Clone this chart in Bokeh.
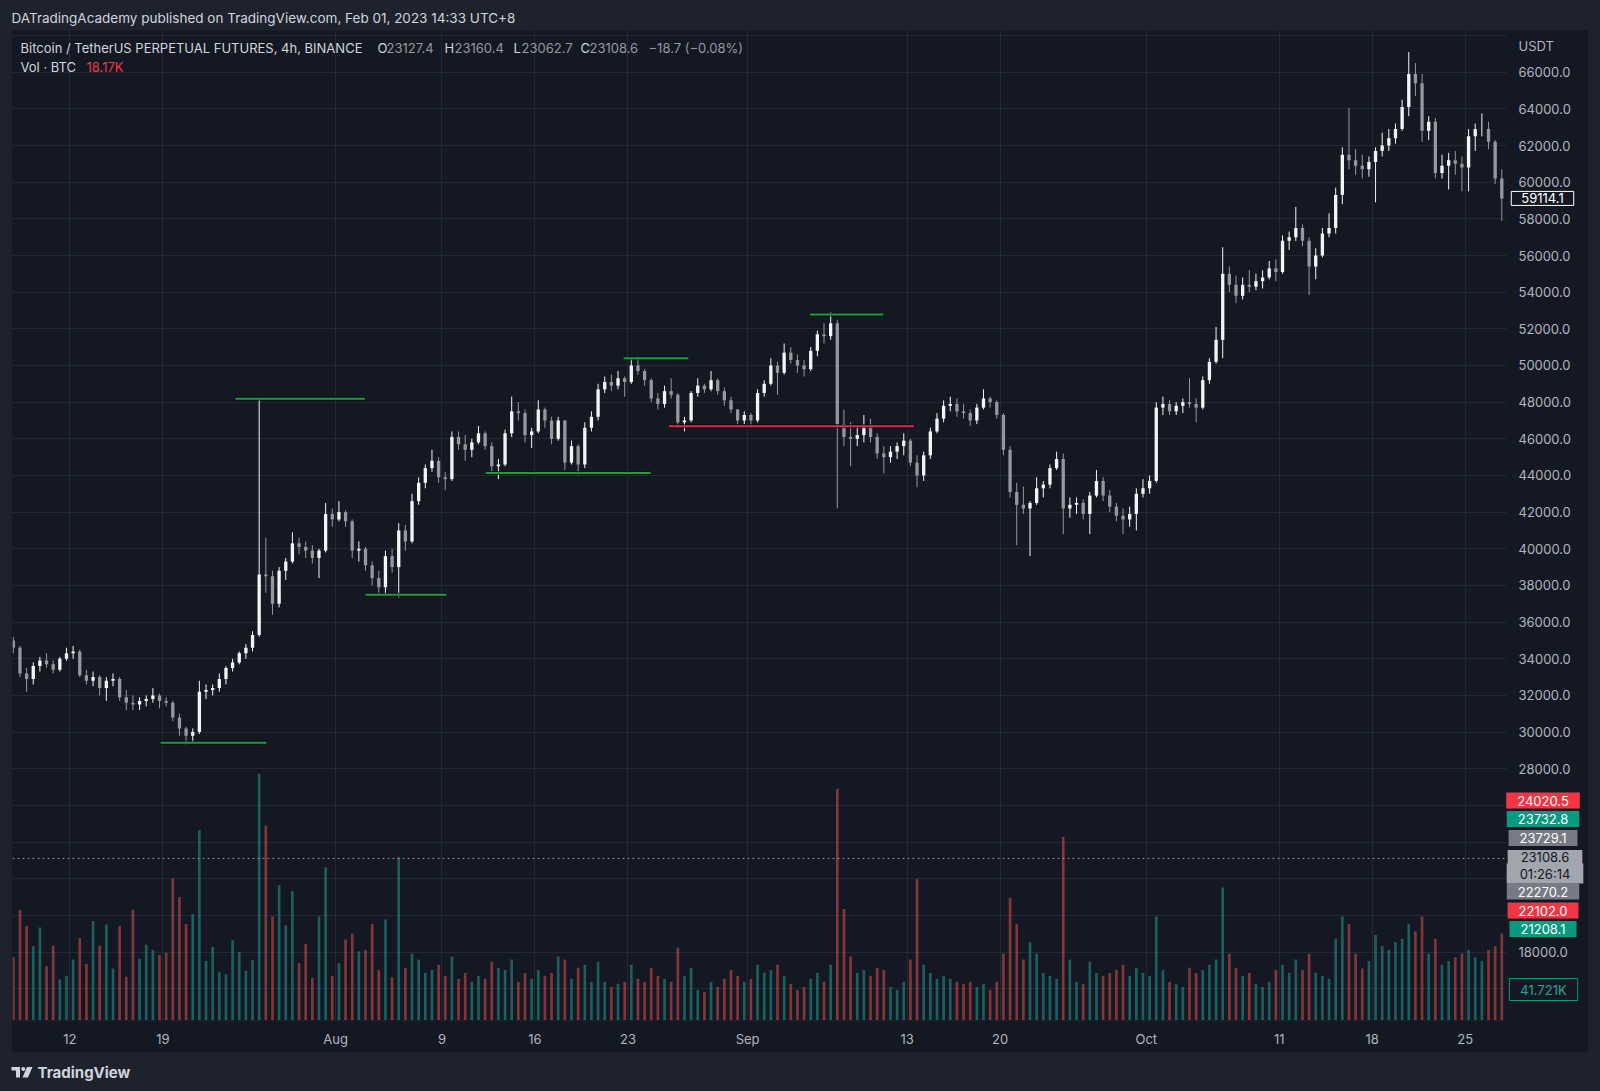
import datetime as dt
from bokeh.plotting import figure
from bokeh.models import (Range1d, LinearAxis, DatetimeAxis, FixedTicker, NumeralTickFormatter,
                          ColumnDataSource, Label, Grid, BoxAnnotation, GlobalInlineStyleSheet)
from bokeh.layouts import column, row
from bokeh.embed import file_html
from bokeh.resources import INLINE

# ---------------- data (12h candles, prices in thousand USDT) ----------------
first_open_k = 35.0
high_k = [
    35.2, 34.7, 33.5, 33.8, 34.1, 34.3, 33.9, 34.1, 34.6, 34.7,
    34.5, 33.4, 33.3, 33.1, 33.0, 33.2, 33.0, 32.3, 32.0, 31.9,
    32.0, 32.4, 32.1, 31.9, 31.7, 31.0, 30.3, 30.2, 32.8, 32.6,
    32.6, 33.2, 33.6, 34.0, 34.4, 34.8, 35.5, 48.2, 40.6, 38.8,
    39.0, 39.5, 40.9, 40.6, 40.4, 40.2, 40.0, 42.5, 42.2, 42.6,
    42.1, 41.6, 40.4, 40.1, 39.3, 38.8, 39.9, 40.0, 41.4, 41.3,
    43.0, 43.9, 44.6, 45.4, 45.0, 44.2, 46.4, 46.4, 46.2, 46.0,
    46.7, 46.4, 45.8, 44.9, 46.5, 48.3, 48.0, 47.6, 46.6, 48.1,
    47.7, 47.2, 47.2, 47.0, 45.9, 45.7, 46.9, 47.5, 49.0, 49.4,
    49.5, 49.7, 49.4, 50.4, 50.5, 49.8, 49.3, 48.5, 48.9, 49.3,
    48.5, 47.2, 48.6, 49.3, 49.0, 49.7, 49.3, 48.8, 48.3, 47.6,
    47.5, 47.4, 48.7, 49.2, 50.4, 50.2, 51.2, 51.0, 50.6, 50.3,
    51.0, 51.9, 52.3, 52.9, 52.5, 47.6, 46.9, 46.7, 47.3, 47.1,
    46.3, 45.6, 45.6, 45.8, 46.3, 46.0, 45.1, 45.3, 46.6, 47.4,
    48.1, 48.3, 48.2, 47.9, 47.6, 47.9, 48.7, 48.3, 48.1, 47.4,
    45.6, 43.6, 43.4, 42.6, 43.9, 43.7, 44.6, 45.3, 45.2, 42.8,
    42.8, 42.7, 43.1, 44.3, 43.9, 43.2, 42.5, 42.2, 42.3, 43.3,
    43.8, 44.0, 48.0, 48.3, 48.1, 48.0, 48.2, 49.3, 48.2, 49.4,
    50.4, 52.1, 56.45, 55.4, 54.9, 54.8, 55.2, 55.0, 55.2, 55.7,
    55.8, 57.1, 57.3, 58.65, 57.7, 57.0, 56.4, 57.5, 58.3, 59.7,
    61.9, 64.05, 61.8, 61.5, 61.4, 61.9, 62.7, 62.9, 63.2, 64.5,
    67.1, 66.5, 65.9, 63.6, 63.5, 61.5, 61.6, 61.7, 61.4, 62.9,
    63.2, 63.75, 63.3, 62.3, 60.7]
low_k = [
    34.3, 33.0, 32.2, 32.6, 33.3, 33.5, 33.2, 33.3, 33.9, 34.0,
    33.0, 32.6, 32.5, 32.0, 31.7, 32.5, 31.7, 31.2, 31.2, 31.2,
    31.4, 31.6, 31.3, 31.4, 30.6, 29.8, 29.3, 29.4, 29.9, 31.8,
    32.0, 32.2, 32.6, 33.3, 33.7, 34.0, 34.4, 35.2, 37.6, 36.4,
    36.8, 38.3, 39.2, 39.7, 39.5, 39.2, 38.4, 39.8, 41.2, 41.5,
    41.2, 39.5, 39.3, 38.8, 38.0, 37.6, 37.5, 38.7, 37.35, 39.9,
    40.3, 42.4, 43.3, 44.2, 43.6, 43.2, 43.7, 45.4, 44.8, 45.0,
    45.7, 45.4, 44.2, 43.8, 44.5, 46.1, 47.0, 45.8, 45.5, 46.3,
    46.6, 45.7, 45.9, 44.3, 44.6, 44.0, 44.4, 46.4, 47.0, 48.5,
    48.6, 48.7, 48.3, 49.0, 49.5, 48.9, 48.0, 47.6, 47.7, 48.2,
    46.6, 46.4, 46.9, 48.3, 48.5, 48.6, 48.4, 47.8, 47.4, 46.8,
    46.8, 46.6, 46.9, 48.3, 48.9, 48.4, 49.5, 50.1, 49.6, 49.4,
    49.7, 50.5, 51.2, 51.4, 42.2, 45.6, 44.5, 45.6, 45.8, 45.8,
    44.9, 44.1, 44.7, 44.9, 45.1, 44.5, 43.35, 43.7, 44.9, 46.3,
    46.9, 47.5, 47.2, 47.1, 46.7, 46.8, 47.6, 47.7, 47.1, 45.1,
    42.8, 40.2, 41.9, 39.6, 42.4, 42.8, 43.3, 44.3, 40.8, 41.7,
    41.9, 41.6, 40.8, 42.8, 42.6, 42.0, 41.5, 40.8, 41.2, 41.0,
    42.8, 43.0, 43.6, 47.3, 47.3, 47.3, 47.4, 47.7, 46.9, 47.6,
    49.0, 50.1, 50.4, 54.0, 53.4, 53.6, 54.0, 54.1, 54.2, 54.7,
    54.6, 55.0, 56.3, 56.8, 56.5, 53.85, 54.7, 55.9, 57.0, 57.2,
    58.8, 60.7, 60.4, 60.2, 60.3, 58.9, 61.4, 61.7, 62.1, 62.8,
    63.6, 64.7, 62.2, 62.3, 60.2, 60.2, 59.6, 60.4, 59.5, 59.5,
    61.7, 62.5, 61.8, 59.9, 57.9]
close_k = [
    34.6, 33.2, 32.9, 33.6, 33.9, 33.7, 33.4, 34.0, 34.3, 34.4,
    33.1, 32.8, 33.0, 32.4, 32.8, 32.9, 31.9, 31.6, 31.5, 31.7,
    31.8, 32.0, 31.7, 31.6, 30.8, 30.2, 29.8, 30.0, 32.2, 32.3,
    32.4, 32.9, 33.5, 33.8, 34.3, 34.6, 35.3, 38.6, 38.5, 37.0,
    38.8, 39.3, 40.3, 40.1, 39.9, 39.5, 39.9, 41.9, 41.6, 42.0,
    41.5, 39.9, 40.0, 39.1, 38.4, 37.9, 39.6, 39.0, 41.0, 40.4,
    42.6, 43.6, 44.4, 44.8, 43.9, 43.8, 46.1, 45.7, 45.4, 45.8,
    46.3, 45.6, 44.5, 44.6, 46.3, 47.5, 47.4, 46.2, 46.4, 47.6,
    47.0, 46.0, 47.0, 44.7, 45.6, 44.6, 46.6, 47.2, 48.7, 49.1,
    48.9, 49.3, 49.1, 50.0, 49.7, 49.2, 48.2, 47.9, 48.6, 48.4,
    46.9, 47.0, 48.5, 48.9, 48.7, 49.2, 48.6, 48.1, 47.6, 47.0,
    47.3, 47.0, 48.5, 49.0, 50.0, 49.6, 50.7, 50.3, 50.0, 49.8,
    50.8, 51.7, 51.6, 52.3, 46.8, 46.1, 46.0, 46.2, 46.7, 46.1,
    45.2, 45.0, 45.3, 45.6, 45.9, 44.7, 44.0, 45.1, 46.4, 47.1,
    47.8, 47.9, 47.5, 47.4, 47.0, 47.7, 48.2, 48.0, 47.3, 45.4,
    43.1, 42.4, 42.2, 42.5, 43.3, 43.5, 44.4, 44.9, 42.2, 42.4,
    42.5, 41.9, 42.9, 43.7, 42.9, 42.3, 41.8, 41.6, 41.9, 43.0,
    43.3, 43.7, 47.7, 47.9, 47.5, 47.8, 48.0, 47.9, 47.7, 49.2,
    50.2, 51.4, 55.0, 54.4, 53.8, 54.4, 54.3, 54.6, 54.8, 55.3,
    55.1, 56.8, 57.0, 57.5, 56.8, 55.4, 56.0, 57.2, 57.5, 59.3,
    61.5, 61.2, 60.9, 60.7, 61.1, 61.7, 62.0, 62.4, 62.9, 64.1,
    65.9, 65.4, 62.8, 63.3, 60.5, 60.9, 61.2, 61.0, 60.8, 62.5,
    62.9, 62.9, 62.2, 60.2, 59.1141]
volume_k = [
    85, 149, 127, 100, 125, 73, 101, 55, 60, 82,
    111, 76, 134, 101, 129, 70, 127, 59, 149, 83,
    102, 95, 88, 91, 191, 166, 130, 143, 256, 80,
    99, 65, 62, 108, 92, 67, 81, 332, 262, 140,
    182, 128, 174, 77, 103, 57, 140, 206, 60, 77,
    109, 117, 93, 95, 130, 68, 136, 58, 220,
    71, 90, 82, 64, 68, 75, 60, 86, 56, 64, 52, 60, 56, 79, 71, 68,
    82, 52, 64, 56, 68, 60, 64, 86, 82, 56, 71, 75, 52, 79, 52, 45,
    49, 52, 75, 56, 52, 71, 60, 56, 52, 98, 60, 71, 41, 38, 52, 45,
    56, 68, 60, 52,
    56, 75, 64, 68, 75, 60, 49, 41, 45, 56, 64, 52, 75, 312, 150, 86,
    64, 68, 60, 71, 68, 45, 41, 52, 82, 190, 75, 64, 56, 60, 56, 52,
    49, 52, 45, 49, 41, 52, 90, 165, 130, 82, 105, 90, 64, 60, 56, 247,
    82, 52, 49, 79, 64, 60, 64, 68, 75, 60, 71, 64,
    60, 140, 68, 52, 49, 45, 71, 64, 68, 75, 82, 179, 90, 71, 60, 64,
    49, 45, 52, 68, 75, 64, 82, 68, 90, 64, 60, 56,
    110, 140, 130, 90, 70, 80, 115, 100, 95, 105, 110, 130, 120, 140, 90, 110,
    75, 80, 85, 90, 95, 85, 80, 95, 100, 117]

# drawn support / resistance levels
level_price = [29420, 48190, 37490, 44140, 50400, 46690, 52780]
level_start = ["2021-07-18 20:00", "2021-07-24 11:00", "2021-08-03 06:00", "2021-08-12 07:00",
               "2021-08-22 16:00", "2021-08-26 02:00", "2021-09-05 17:00"]
level_end = ["2021-07-26 19:00", "2021-08-03 05:00", "2021-08-09 08:00", "2021-08-24 17:00",
             "2021-08-27 13:00", "2021-09-13 12:00", "2021-09-11 05:00"]
level_kind = ["support", "resistance", "support", "support", "resistance", "broken", "resistance"]

tick_dates = ["2021-07-12", "2021-07-19", "2021-08-01", "2021-08-09", "2021-08-16", "2021-08-23",
              "2021-09-01", "2021-09-13", "2021-09-20", "2021-10-01", "2021-10-11", "2021-10-18",
              "2021-10-25"]
tick_labels = ["12", "19", "Aug", "9", "16", "23", "Sep", "13", "20", "Oct", "11", "18", "25"]

price_ticks = [18000] + list(range(28000, 66001, 2000))
grid_ticks = list(range(14000, 68001, 2000))

side_labels = ["24020.5", "23732.8", "23729.1", "22270.2", "22102.0", "21208.1"]
side_kinds = ["red", "teal", "gray", "gray", "red", "teal"]
live_price = 23108.6
countdown = "01:26:14"
last_volume_text = "41.721K"

# ---------------- styling ----------------
PANE = "#141823"
FRAME = "#1e222d"
GRID = "#232836"
TXT = "#d1d4dc"
AX = "#b2b5be"
UP = "#f4f4f6"
DOWN = "#9598a1"
VTEAL = "#26a69a"
VRED = "#ef5350"
BOX = {"red": "#f23645", "teal": "#089981", "gray": "#787b86"}
LEVEL = {"support": "#17a03f", "resistance": "#17a03f", "broken": "#e8254a"}
FONT = "Inter"

EPOCH = dt.datetime(1970, 1, 1)


def ms(t):
    return (t - EPOCH).total_seconds() * 1000.0


def ms_s(s):
    fmt = "%Y-%m-%d %H:%M" if " " in s else "%Y-%m-%d"
    return ms(dt.datetime.strptime(s, fmt))


DAY = 86400000.0
STEP = DAY / 2
start = dt.datetime(2021, 7, 7, 12)
n = len(close_k)
x_mid = [ms(start) + STEP * i + STEP / 2 for i in range(n)]
opens = [first_open_k] + close_k[:-1]
o = [v * 1000 for v in opens]
h = [v * 1000 for v in high_k]
l = [v * 1000 for v in low_k]
c = [v * 1000 for v in close_k]
is_up = [cc >= oo for oo, cc in zip(o, c)]

# page geometry (pixels): chart frame spans page x 12..1588 (data area ends at 1506), y 30..1020
FL, FD, FR, FT, FB = 12.0, 1506.0, 1588.0, 30.0, 1020.0
jul12 = ms(dt.datetime(2021, 7, 12))
X0 = jul12 - 4.3115 * DAY
XD = jul12 + 108.103 * DAY            # time at the right edge of the data area
MS_PER_PX = (XD - X0) / (FD - FL)
X1 = X0 + (FR - FL) * MS_PER_PX
Y0, Y1 = 14265.0, 68275.0


def px_x(page_x):
    return X0 + (page_x - FL) * MS_PER_PX


def py_y(page_y):
    return Y1 - (page_y - FT) * (Y1 - Y0) / (FB - FT)


# ---------------- main chart ----------------
p = figure(width=1577, height=1022, x_axis_type=None, y_axis_type=None,
           x_range=Range1d(X0, X1), y_range=Range1d(Y0, Y1),
           toolbar_location=None, output_backend="svg",
           min_border_left=1, min_border_right=0, min_border_top=0, min_border_bottom=32)
p.background_fill_color = PANE
p.border_fill_color = PANE
p.outline_line_color = None
p.extra_y_ranges = {"vol": Range1d(0, 1332)}


def style_axis(ax, color=AX, font_style="normal"):
    ax.axis_line_color = None
    ax.major_tick_line_color = None
    ax.minor_tick_line_color = None
    ax.major_tick_out = 0
    ax.major_tick_in = 0
    ax.major_label_text_color = color
    ax.major_label_text_font = FONT
    ax.major_label_text_font_size = "13px"
    ax.major_label_text_font_style = font_style


tick_ms = [ms_s(d) for d in tick_dates]
xaxis = DatetimeAxis(ticker=FixedTicker(ticks=tick_ms),
                     major_label_overrides={t: lab for t, lab in zip(tick_ms, tick_labels)})
style_axis(xaxis)
xaxis.major_label_standoff = 10
p.add_layout(xaxis, "below")

yaxis = LinearAxis(ticker=FixedTicker(ticks=price_ticks), formatter=NumeralTickFormatter(format="0.0"),
                   fixed_location=XD)
style_axis(yaxis)
yaxis.major_label_standoff = 12
p.add_layout(yaxis, "right")

p.add_layout(Grid(dimension=0, ticker=FixedTicker(ticks=tick_ms), grid_line_color=GRID))
p.add_layout(Grid(dimension=1, ticker=FixedTicker(ticks=grid_ticks), grid_line_color=GRID))
# price-scale column: plain pane colour over the grid
p.add_layout(BoxAnnotation(left=XD, fill_color=PANE, fill_alpha=1.0, line_color=None,
                           level="underlay"))

# volume
vsrc = ColumnDataSource(dict(x=x_mid, top=volume_k,
                             color=[VTEAL if u else VRED for u in is_up]))
p.vbar(x="x", top="top", bottom=0, width=STEP * 0.4, fill_color="color", line_color=None,
       fill_alpha=0.5, y_range_name="vol", source=vsrc)

# candles
csrc = ColumnDataSource(dict(x=x_mid, h=h, l=l,
                             top=[max(a, b) for a, b in zip(o, c)],
                             bottom=[min(a, b) for a, b in zip(o, c)],
                             color=[UP if u else DOWN for u in is_up]))
p.segment(x0="x", y0="h", x1="x", y1="l", line_color="color", line_width=1, source=csrc)
p.vbar(x="x", width=STEP * 0.5, top="top", bottom="bottom", fill_color="color",
       line_color=None, source=csrc)

# levels
lsrc = ColumnDataSource(dict(x0=[ms_s(s) for s in level_start], x1=[ms_s(s) for s in level_end],
                             y=level_price, color=[LEVEL[k] for k in level_kind]))
p.segment(x0="x0", y0="y", x1="x1", y1="y", line_color="#07090d", line_width=4, line_alpha=0.7,
          source=lsrc)
p.segment(x0="x0", y0="y", x1="x1", y1="y", line_color="color", line_width=2, source=lsrc)

# live price line across the data area
p.segment(x0=[X0], y0=[live_price], x1=[XD], y1=[live_price], line_color="#8a8d96",
          line_dash="2 3", line_width=1)


def label(fig_p, text, x, y, color, size="13px", align="left", style="normal", **kw):
    fig_p.add_layout(Label(x=x, y=y, text=text, text_color=color, text_font=FONT,
                           text_font_size=size, text_align=align, text_baseline="middle",
                           text_font_style=style, **kw))


# legend texts inside the pane
label(p, "Bitcoin / TetherUS PERPETUAL FUTURES, 4h, BINANCE", px_x(20), py_y(47), TXT)
ohlc_parts = [("O", 377, TXT), ("23127.4", 386, DOWN), ("H", 444, TXT), ("23160.4", 454, DOWN),
              ("L", 513, TXT), ("23062.7", 521, DOWN), ("C", 580, TXT), ("23108.6", 589, DOWN),
              ("\u221218.7 (\u22120.08%)", 648, DOWN)]
for txt, xx, col in ohlc_parts:
    label(p, txt, px_x(xx), py_y(47), col)
label(p, "Vol \u00b7 BTC", px_x(20), py_y(66), TXT)
label(p, "18.17K", px_x(86), py_y(66), "#f23645")

# price-scale texts
label(p, "USDT", px_x(1518), py_y(45), AX)
PAD = dict(left=11, right=11, top=3, bottom=3)
label(p, "59114.1", px_x(1542), c[-1], "#ffffff", align="center",
      background_fill_color=PANE, background_fill_alpha=1.0,
      border_line_color="#ffffff", border_line_width=1,
      padding=dict(left=10, right=10, top=2, bottom=2))
side_y = [800, 818.5, 837.5, 891, 910, 928.5]
for txt, kind, yy in zip(side_labels, side_kinds, side_y):
    label(p, txt, px_x(1542.5), py_y(yy), "#ffffff", align="center",
          background_fill_color=BOX[kind], background_fill_alpha=1.0, padding=PAD)
PAD2 = dict(left=13, right=13, top=2, bottom=2)
label(p, f"{live_price:.1f}", px_x(1544.5), py_y(856.5), "#131722", align="center",
      background_fill_color="#a3a6ae", background_fill_alpha=1.0, padding=PAD2)
label(p, countdown, px_x(1544.5), py_y(873), "#131722", align="center",
      background_fill_color="#a3a6ae", background_fill_alpha=1.0, padding=PAD2)
label(p, last_volume_text, px_x(1543), py_y(989), "#26a69a", align="center",
      background_fill_color=PANE, background_fill_alpha=1.0,
      border_line_color="#089981", border_line_width=1, padding=PAD)


# ---------------- frame strips, header & footer ----------------
def strip(w, hgt):
    f = figure(width=w, height=hgt, x_range=Range1d(0, w), y_range=Range1d(0, hgt),
               x_axis_type=None, y_axis_type=None, toolbar_location=None,
               output_backend="svg", min_border=0)
    f.background_fill_color = FRAME
    f.border_fill_color = FRAME
    f.outline_line_color = None
    return f


hdr = strip(1600, 30)
label(hdr, "DATradingAcademy published on TradingView.com, Feb 01, 2023 14:33 UTC+8", 11, 13, TXT,
      size="13.5px")

ftr = strip(1600, 39)
# TradingView logo mark
ftr.quad(left=[11, 15.5], right=[19.5, 19.5], bottom=[21, 14], top=[24.5, 24.5],
         fill_color=TXT, line_color=None)
ftr.scatter(x=[22.8], y=[22.4], size=4, marker="circle", fill_color=TXT, line_color=None)
ftr.patch(x=[26.5, 32, 27.5, 22], y=[24.5, 24.5, 14, 14], fill_color=TXT, line_color=None)
label(ftr, "TradingView", 37, 19.5, TXT, size="15px", style="bold")

left_strip = strip(11, 1022)
right_strip = strip(12, 1022)

layout = column(hdr, row(left_strip, p, right_strip), ftr)
layout.stylesheets = [GlobalInlineStyleSheet(css="html, body { background-color: #1e222d; }")]

open("out.html", "w").write(file_html(layout, INLINE))
